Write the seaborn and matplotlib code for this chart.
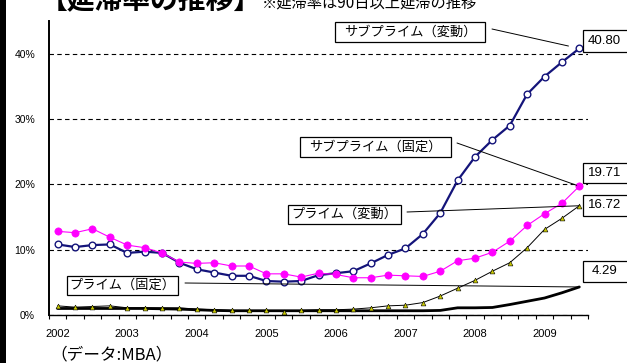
import numpy as np
import pandas as pd
import matplotlib
matplotlib.use("Agg")
import matplotlib.pyplot as plt
import seaborn as sns
from matplotlib.patches import Rectangle
from matplotlib.transforms import Affine2D

# ---------------- data (quarterly, 2002Q1 .. 2009Q3) ----------------
year_labels = ["2002", "2003", "2004", "2005", "2006", "2007", "2008", "2009"]
quarter_index = list(range(31))

subprime_arm = [10.8, 10.4, 10.7, 10.8, 9.5, 9.7, 9.5, 8.0, 7.0, 6.5, 6.0, 6.0,
                5.2, 5.1, 5.2, 6.1, 6.4, 6.7, 7.9, 9.2, 10.2, 12.4, 15.6, 20.6,
                24.2, 26.8, 29.0, 33.8, 36.5, 38.7, 40.80]
subprime_fixed = [12.8, 12.6, 13.2, 11.9, 10.7, 10.3, 9.5, 8.1, 7.9, 8.0, 7.5, 7.5,
                  6.3, 6.3, 5.8, 6.4, 6.2, 5.7, 5.7, 6.1, 6.0, 5.9, 6.7, 8.3,
                  8.7, 9.6, 11.3, 13.7, 15.5, 17.1, 19.71]
prime_arm = [1.4, 1.2, 1.3, 1.4, 1.1, 1.1, 1.1, 1.1, 0.9, 0.8, 0.7, 0.7,
             0.7, 0.5, 0.7, 0.8, 0.8, 0.9, 1.1, 1.4, 1.5, 1.9, 2.9, 4.1,
             5.3, 6.7, 8.0, 10.3, 13.1, 14.8, 16.72]
prime_fixed = [1.0, 1.0, 1.0, 1.0, 1.0, 1.0, 0.95, 0.9, 0.8, 0.7, 0.65, 0.65,
               0.65, 0.65, 0.65, 0.65, 0.65, 0.65, 0.65, 0.65, 0.65, 0.65, 0.7, 1.1,
               1.1, 1.15, 1.6, 2.1, 2.6, 3.4, 4.29]

series_names = ["サブプライム（変動）", "サブプライム（固定）", "プライム（変動）", "プライム（固定）"]
end_labels = ["40.80", "19.71", "16.72", "4.29"]
y_ticks = [0, 10, 20, 30, 40]
y_tick_labels = ["0%", "10%", "20%", "30%", "40%"]
title_main = "【延滞率の推移】"
title_note = "※延滞率は90日以上延滞の推移"
source_note = "（データ:MBA）"

df = pd.DataFrame({
    "q": quarter_index,
    "sa": subprime_arm,
    "sf": subprime_fixed,
    "pa": prime_arm,
    "pf": prime_fixed,
})

# ---------------- figure ----------------
sns.set_theme(style="white")
plt.rcParams["font.family"] = ["Noto Sans CJK JP", "DejaVu Sans"]

W, H = 627, 363
fig = plt.figure(figsize=(W / 100, H / 100), dpi=100)
fig.patch.set_facecolor("white")
ax = fig.add_axes([49 / W, 1 - 315 / H, (588 - 49) / W, (315 - 21) / H])
ax.set_facecolor("white")
px = Affine2D().scale(1 / W, -1 / H).translate(0, 1) + fig.transFigure

navy = "#14147a"
magenta = "#ff00ff"

sns.lineplot(data=df, x="q", y="pf", ax=ax, color="black", linewidth=2.0, zorder=3)
sns.lineplot(data=df, x="q", y="pa", ax=ax, color="black", linewidth=0.7,
             marker="^", markersize=3.5, markerfacecolor="#c8c800",
             markeredgecolor="black", markeredgewidth=0.4, zorder=4)
sns.lineplot(data=df, x="q", y="sa", ax=ax, color=navy, linewidth=1.6,
             marker="o", markersize=4.8, markerfacecolor="white",
             markeredgecolor=navy, markeredgewidth=1.0, zorder=5)
sns.lineplot(data=df, x="q", y="sf", ax=ax, color=magenta, linewidth=0.8,
             marker="o", markersize=5.2, markerfacecolor=magenta,
             markeredgecolor=magenta, markeredgewidth=0.5, zorder=6)

ax.set_xlim(-0.5, 30.5)
ax.set_ylim(0, 45)
ax.set_xlabel("")
ax.set_ylabel("")

ax.set_yticks(y_ticks)
ax.set_yticklabels(y_tick_labels, family=["Liberation Sans"], fontsize=7.5)
ax.set_xticks(quarter_index[::4])
ax.set_xticklabels(year_labels, family=["Liberation Sans"], fontsize=8)
ax.set_xticks(np.arange(-0.5, 31, 1), minor=True)
ax.tick_params(axis="x", which="major", length=0, pad=10, colors="black")
ax.tick_params(axis="x", which="minor", bottom=True, length=3, width=0.8,
               direction="out", color="black")
ax.tick_params(axis="y", which="major", left=False, length=0, pad=10, colors="black")

ax.yaxis.grid(True, linestyle=(0, (4, 3)), color="black", linewidth=0.8)
ax.xaxis.grid(False)
ax.set_axisbelow(True)
for s in ["top", "right"]:
    ax.spines[s].set_visible(False)
ax.spines["left"].set_color("black")
ax.spines["left"].set_linewidth(1.4)
ax.spines["bottom"].set_color("black")
ax.spines["bottom"].set_linewidth(1.0)

# ---------------- label boxes ----------------
def box(x0, y0, x1, y1, text, fs, family=None, ha="center", tx=None):
    fig.add_artist(Rectangle((x0, y0), x1 - x0, y1 - y0, transform=px,
                             facecolor="white", edgecolor="black", lw=0.9, zorder=10))
    if tx is None:
        tx = (x0 + x1) / 2
    kw = {}
    if family:
        kw["family"] = family
    fig.text(tx, (y0 + y1) / 2, text, transform=px, ha=ha, va="center",
             fontsize=fs, color="black", zorder=11, **kw)

box(335, 22, 485, 42, series_names[0], 9.5)
box(300, 137, 451, 157, series_names[1], 9.5)
box(288, 205, 401, 224, series_names[2], 9.5)
box(67, 276, 178, 295, series_names[3], 9.5)

num_font = ["Liberation Sans"]
box(583, 30, 640, 52, end_labels[0], 9.5, num_font, ha="left", tx=588)
box(583, 163, 640, 183, end_labels[1], 9.5, num_font, ha="left", tx=588)
box(583, 195, 640, 216, end_labels[2], 9.5, num_font, ha="left", tx=588)
box(583, 261, 640, 282, end_labels[3], 9.5, num_font, ha="left", tx=592)

# leader lines from label boxes to last data points
last = quarter_index[-1]
leaders = [
    (subprime_arm[-1], (492, 29), 8),
    (subprime_fixed[-1], (457, 143), 2),
    (prime_arm[-1], (407, 212), 0),
    (prime_fixed[-1], (185, 283), 1),
]
for val, start, shrink in leaders:
    ax.annotate("", xy=(last, val), xycoords="data", xytext=start, textcoords=px,
                arrowprops=dict(arrowstyle="-", color="black", lw=0.7,
                                shrinkA=0, shrinkB=shrink),
                annotation_clip=False, zorder=7)

# ---------------- titles / notes ----------------
fig.text(40, 9, title_main, transform=px, ha="left", va="baseline",
         fontsize=20, fontweight="bold", color="black")
fig.text(262, 8, title_note, transform=px, ha="left", va="baseline",
         fontsize=11, color="black")
fig.text(50, 355, source_note, transform=px, ha="left", va="center",
         fontsize=12, color="black")

# left black edge bar
fig.add_artist(Rectangle((0, 0), 6, H, transform=px, facecolor="black",
                         edgecolor="none", zorder=12))

fig.savefig("out.png", dpi=100)
